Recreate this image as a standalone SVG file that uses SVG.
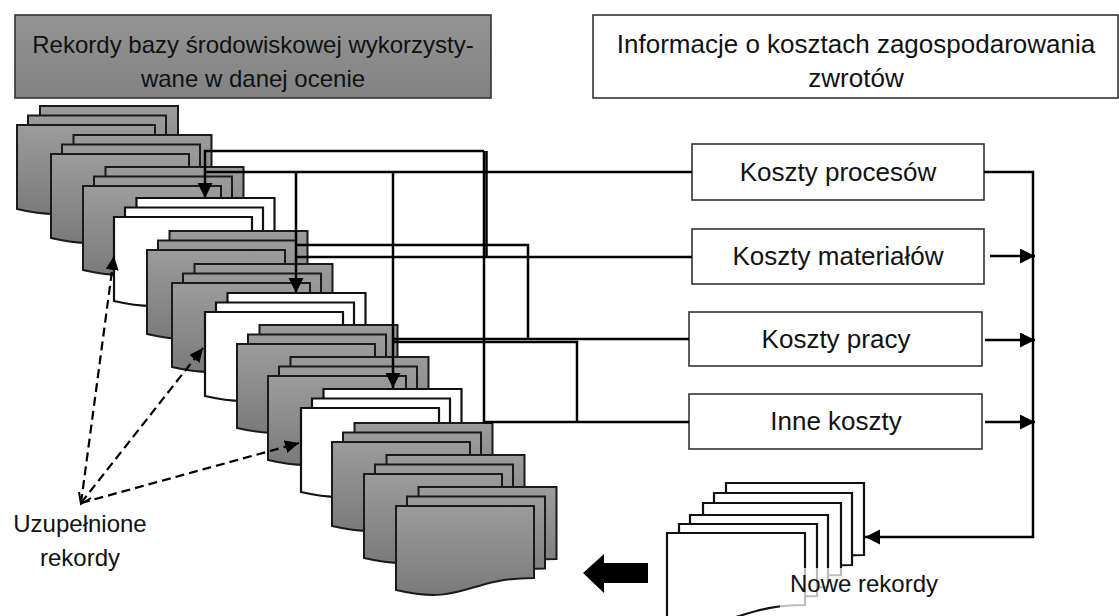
<svg xmlns="http://www.w3.org/2000/svg" width="1119" height="616" viewBox="0 0 1119 616">
  <style>
    .lbl { font-family: "Liberation Sans", Arial, sans-serif; fill: #111; }
    .doc-g { fill: url(#docGrad); stroke: #1a1a1a; stroke-width: 2; }
    .doc-w { fill: #fff; stroke: #111; stroke-width: 2.2; }
    .box { fill: #fff; stroke: #333; stroke-width: 1.6; }
    .wire { fill: none; stroke: #000; stroke-width: 2.5; }
    .dash { fill: none; stroke: #000; stroke-width: 2.2; stroke-dasharray: 9 5; }
  </style>
  <defs>
    <linearGradient id="docGrad" x1="0" y1="0" x2="0" y2="1">
      <stop offset="0" stop-color="#9c9c9c"/>
      <stop offset="1" stop-color="#7a7a7a"/>
    </linearGradient>
    <linearGradient id="titleGrad" x1="0" y1="0" x2="0" y2="1">
      <stop offset="0" stop-color="#949494"/>
      <stop offset="1" stop-color="#828282"/>
    </linearGradient>
    <!-- document sheet with wavy bottom edge -->
    <path id="doc" d="M0,0 H138 V72 C69,72 69,100 0,84 Z"/>
    <marker id="arrow" markerUnits="userSpaceOnUse" markerWidth="16" markerHeight="16" refX="15" refY="7.5" orient="auto">
      <path d="M0,0 L15,7.5 L0,15 Z" fill="#000"/>
    </marker>
    <marker id="arrowS" markerUnits="userSpaceOnUse" markerWidth="15" markerHeight="14" refX="14" refY="6.5" orient="auto">
      <path d="M0,0 L14,6.5 L0,13 Z" fill="#000"/>
    </marker>
  </defs>

  <!-- header boxes -->
  <g id="header-records">
    <rect x="15" y="15" width="476" height="83" fill="url(#titleGrad)" stroke="#333" stroke-width="1.6"/>
    <text class="lbl" x="253" y="53" font-size="24" text-anchor="middle">Rekordy bazy środowiskowej wykorzysty-</text>
    <text class="lbl" x="253" y="87" font-size="24" text-anchor="middle">wane w danej ocenie</text>
  </g>
  <g id="header-costs">
    <rect x="593" y="15" width="525" height="83" class="box"/>
    <text class="lbl" x="856" y="53" font-size="26" text-anchor="middle">Informacje o kosztach zagospodarowania</text>
    <text class="lbl" x="856" y="87" font-size="26" text-anchor="middle">zwrotów</text>
  </g>

  <!-- diagonal run of record stacks, back to front -->
  <g id="stack-01"><use href="#doc" x="40" y="106" class="doc-g"/><use href="#doc" x="28" y="115.5" class="doc-g"/><use href="#doc" x="17" y="125" class="doc-g"/></g>
  <g id="stack-02"><use href="#doc" x="73.5" y="135" class="doc-g"/><use href="#doc" x="62" y="144.5" class="doc-g"/><use href="#doc" x="51" y="154" class="doc-g"/></g>
  <g id="stack-03"><use href="#doc" x="105.5" y="167" class="doc-g"/><use href="#doc" x="94" y="176.5" class="doc-g"/><use href="#doc" x="83" y="186" class="doc-g"/></g>
  <g id="stack-04"><use href="#doc" x="136.5" y="198" class="doc-w"/><use href="#doc" x="125" y="207.5" class="doc-w"/><use href="#doc" x="114" y="217" class="doc-w"/></g>
  <g id="stack-05"><use href="#doc" x="169.5" y="231" class="doc-g"/><use href="#doc" x="158" y="240.5" class="doc-g"/><use href="#doc" x="147" y="250" class="doc-g"/></g>
  <g id="stack-06"><use href="#doc" x="194.5" y="264" class="doc-g"/><use href="#doc" x="183" y="273.5" class="doc-g"/><use href="#doc" x="172" y="283" class="doc-g"/></g>
  <g id="stack-07"><use href="#doc" x="227.5" y="293" class="doc-w"/><use href="#doc" x="216" y="302.5" class="doc-w"/><use href="#doc" x="205" y="312" class="doc-w"/></g>
  <g id="stack-08"><use href="#doc" x="259.5" y="325" class="doc-g"/><use href="#doc" x="248" y="334.5" class="doc-g"/><use href="#doc" x="237" y="344" class="doc-g"/></g>
  <g id="stack-09"><use href="#doc" x="290.5" y="357" class="doc-g"/><use href="#doc" x="279" y="366.5" class="doc-g"/><use href="#doc" x="268" y="376" class="doc-g"/></g>
  <g id="stack-10"><use href="#doc" x="323.5" y="389" class="doc-w"/><use href="#doc" x="312" y="398.5" class="doc-w"/><use href="#doc" x="301" y="408" class="doc-w"/></g>
  <g id="stack-11"><use href="#doc" x="354.5" y="423" class="doc-g"/><use href="#doc" x="343" y="432.5" class="doc-g"/><use href="#doc" x="332" y="442" class="doc-g"/></g>
  <g id="stack-12"><use href="#doc" x="386.5" y="455" class="doc-g"/><use href="#doc" x="375" y="464.5" class="doc-g"/><use href="#doc" x="364" y="474" class="doc-g"/></g>
  <g id="stack-13"><use href="#doc" x="418.5" y="487" class="doc-g"/><use href="#doc" x="407" y="496.5" class="doc-g"/><use href="#doc" x="396" y="506" class="doc-g"/></g>

  <!-- cost category boxes -->
  <g id="cost-process">
    <rect x="692" y="144" width="292" height="56" class="box"/>
    <text class="lbl" x="838" y="181" font-size="26" text-anchor="middle">Koszty procesów</text>
  </g>
  <g id="cost-material">
    <rect x="692" y="229" width="292" height="55" class="box"/>
    <text class="lbl" x="838" y="265" font-size="26" text-anchor="middle">Koszty materiałów</text>
  </g>
  <g id="cost-labour">
    <rect x="689" y="312" width="293" height="54" class="box"/>
    <text class="lbl" x="836" y="348" font-size="26" text-anchor="middle">Koszty pracy</text>
  </g>
  <g id="cost-other">
    <rect x="689" y="394" width="293" height="55" class="box"/>
    <text class="lbl" x="836" y="430" font-size="26" text-anchor="middle">Inne koszty</text>
  </g>

  <!-- new records stack -->
  <g id="new-records">
    <use href="#doc" x="726" y="483" class="doc-w"/>
    <use href="#doc" x="714" y="493" class="doc-w"/>
    <use href="#doc" x="703" y="503" class="doc-w"/>
    <use href="#doc" x="690" y="515" class="doc-w"/>
    <use href="#doc" x="679" y="524" class="doc-w"/>
    <use href="#doc" x="667" y="533" class="doc-w"/>
    <rect x="780" y="568" width="115" height="40" fill="#fff" fill-opacity="0.72"/>
    <text class="lbl" x="790" y="592" font-size="24">Nowe rekordy</text>
  </g>

  <!-- label for completed records -->
  <g id="completed-label">
    <text class="lbl" x="80" y="532" font-size="24" text-anchor="middle">Uzupełnione</text>
    <text class="lbl" x="80" y="566" font-size="24" text-anchor="middle">rekordy</text>
  </g>

  <!-- output arrow -->
  <g id="output-arrow">
    <polygon points="583,573 604,554 604,563 648,563 648,583 604,583 604,593" fill="#000"/>
  </g>

  <!-- connectors -->
  <g id="connectors">
    <path class="wire" d="M484,151 H205 V198" marker-end="url(#arrow)"/>
    <path class="wire" d="M692,172 H205"/>
    <path class="wire" d="M296,172 V293" marker-end="url(#arrow)"/>
    <path class="wire" d="M393,172 V388" marker-end="url(#arrow)"/>
    <path class="wire" d="M484,151 V422 H689"/>
    <path class="wire" d="M486.5,151 V257"/>
    <path class="wire" d="M692,257 H296"/>
    <path class="wire" d="M296,245 H528 V339"/>
    <path class="wire" d="M689,339 H393"/>
    <path class="wire" d="M393,342 H577 V422"/>
    <path class="wire" d="M984,172 H1033 V537 H865" marker-end="url(#arrow)"/>
    <path class="wire" d="M990,256 H1035" marker-end="url(#arrow)"/>
    <path class="wire" d="M985,340 H1035" marker-end="url(#arrow)"/>
    <path class="wire" d="M985,422 H1035" marker-end="url(#arrow)"/>
    <path class="dash" d="M81,503 L114,256" marker-end="url(#arrowS)"/>
    <path class="dash" d="M81,503 L203,348" marker-end="url(#arrowS)"/>
    <path class="dash" d="M81,503 L299,443" marker-end="url(#arrowS)"/>
    <path d="M79,492 L81,504 L91,498" fill="none" stroke="#000" stroke-width="2"/>
  </g>
</svg>
